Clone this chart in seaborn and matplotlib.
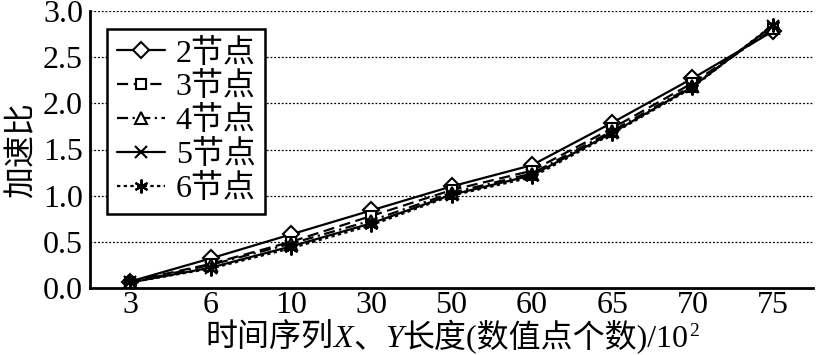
import matplotlib
matplotlib.use("Agg")
import matplotlib.pyplot as plt
import seaborn as sns
import numpy as np
import pandas as pd

# ---- data ----
categories = ["3", "6", "10", "30", "50", "60", "65", "70", "75"]
node2 = [0.07, 0.32, 0.58, 0.84, 1.10, 1.33, 1.79, 2.27, 2.78]
node3 = [0.07, 0.26, 0.50, 0.78, 1.06, 1.27, 1.73, 2.22, 2.80]
node4 = [0.06, 0.25, 0.48, 0.73, 1.03, 1.24, 1.70, 2.19, 2.82]
node5 = [0.06, 0.22, 0.45, 0.70, 1.01, 1.22, 1.68, 2.18, 2.84]
node6 = [0.06, 0.21, 0.43, 0.68, 1.00, 1.20, 1.67, 2.17, 2.85]
series_labels = ["2节点", "3节点", "4节点", "5节点", "6节点"]
y_ticks = [0.0, 0.5, 1.0, 1.5, 2.0, 2.5, 3.0]

sns.set_theme(style="white")
FAM = ["Liberation Serif", "Noto Sans CJK SC"]
plt.rcParams["font.family"] = FAM
plt.rcParams["axes.unicode_minus"] = False
FS = 23      # tick labels
FSC = 23     # texts with Chinese characters

fig = plt.figure(figsize=(8.16, 3.55), dpi=100)
ax = fig.add_axes([90 / 816, 1 - 288 / 355, (813 - 90) / 816, (288 - 11) / 355])

series = [node2, node3, node4, node5, node6]
styles = [
    dict(marker="D", linestyle="-", markersize=8),
    dict(marker="s", linestyle=(0, (5, 2.5)), markersize=7),
    dict(marker="^", linestyle=(0, (5, 2, 1, 2)), markersize=9),
    dict(marker="x", linestyle="-", markersize=8),
    dict(marker=(6, 2, 0), linestyle=(0, (1.5, 1.5)), markersize=10),
]
xpos = np.arange(len(categories))
for vals, lab, st in zip(series, series_labels, styles):
    df = pd.DataFrame({"x": xpos, "y": vals})
    sns.lineplot(data=df, x="x", y="y", ax=ax, color="black", linewidth=1.6,
                 markerfacecolor="white", markeredgecolor="black",
                 markeredgewidth=1.5, label=lab, **st)

ax.set_xlim(-0.5, len(categories) - 0.5)
ax.set_ylim(0, 3.0)
ax.set_xticks(xpos)
ax.set_xticklabels(categories)
ax.set_xticks(np.arange(0.5, len(categories), 1.0), minor=True)
ax.tick_params(axis="x", which="major", length=0, pad=2, labelsize=FS)
ax.tick_params(axis="x", which="minor", length=6, width=1.5, direction="in", color="black")
ax.set_yticks(y_ticks)
ax.set_yticklabels([f"{v:.1f}" for v in y_ticks])
ax.tick_params(axis="y", length=0, pad=5, labelsize=FS)
for t in ax.get_xticklabels() + ax.get_yticklabels():
    t.set_family(FAM)
    t.set_color("black")

for v in y_ticks[1:]:
    ax.axhline(v, color="black", linewidth=0.9, linestyle=(0, (1.5, 1.5)), zorder=0)

for s in ["top", "right"]:
    ax.spines[s].set_visible(False)
for s in ["left", "bottom"]:
    ax.spines[s].set_color("black")
    ax.spines[s].set_linewidth(2)

ax.set_xlabel("")
ax.set_ylabel("加速比", fontsize=FSC, family=FAM, color="black", labelpad=4)

leg = ax.legend(loc="upper left", bbox_to_anchor=(17 / 723, 1 - 18 / 277), frameon=True,
                fancybox=False, edgecolor="black", framealpha=1,
                prop={"family": FAM, "size": FSC},
                handlelength=1.5, handletextpad=0.35, labelspacing=0.12,
                borderpad=0.3, borderaxespad=0)
leg.get_frame().set_linewidth(1.8)
leg.get_frame().set_edgecolor("black")
for t in leg.get_texts():
    t.set_color("black")

# ---- x label with italic X / Y and superscript ----
fig.canvas.draw()
renderer = fig.canvas.get_renderer()
pieces = [("时间序列", "normal", FSC, 0), ("X", "italic", FSC, 0), ("、", "normal", FSC, 0),
          ("Y", "italic", FSC, 0), ("长度(数值点个数)/10", "normal", FSC, 0),
          ("2", "normal", 14, 11)]
texts = []
widths = []
for s, style, size, dy in pieces:
    t = fig.text(0, 0, s, fontsize=size, style=style, family=FAM, color="black",
                 va="baseline", ha="left")
    bb = t.get_window_extent(renderer)
    texts.append((t, dy))
    widths.append(bb.width)
total = sum(widths)
x0 = 452 - total / 2
base = 355 - 347
for (t, dy), w in zip(texts, widths):
    t.set_position((x0 / 816, (base + dy) / 355))
    x0 += w

fig.savefig("out.png", dpi=100)
